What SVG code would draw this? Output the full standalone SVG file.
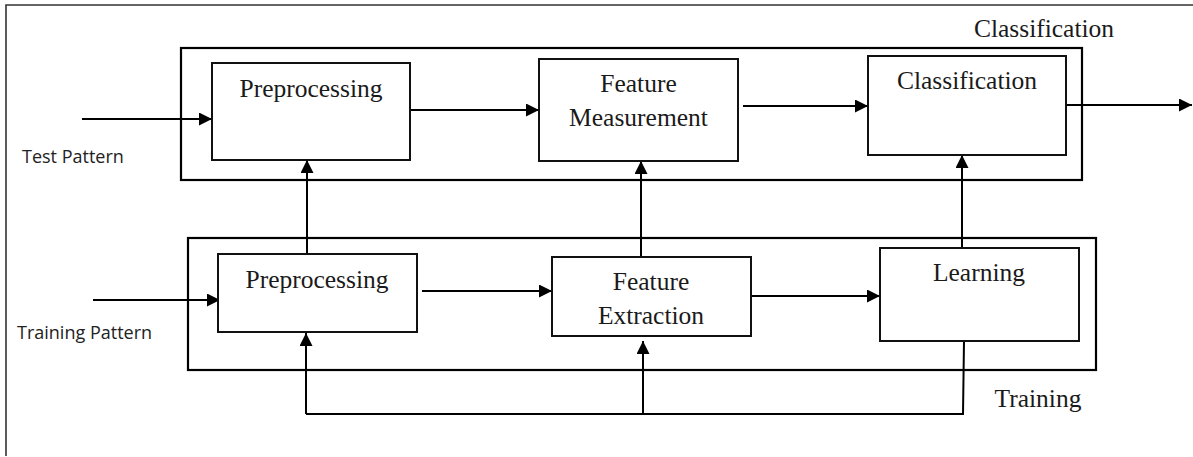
<svg xmlns="http://www.w3.org/2000/svg" width="1193" height="457" viewBox="0 0 1193 457">
  <defs>
    <marker id="arrow" viewBox="0 0 13 13" refX="13" refY="6.5" markerWidth="13" markerHeight="13" markerUnits="userSpaceOnUse" orient="auto">
      <path d="M0,0 L13,6.5 L0,13 Z" fill="#000"/>
    </marker>
    <style>
      .frame { fill: none; stroke: #333; stroke-width: 1.6; }
      .group { fill: none; stroke: #000; stroke-width: 2.2; }
      .box { fill: #fff; stroke: #111; stroke-width: 2; }
      .conn { fill: none; stroke: #000; stroke-width: 2; }
      .arr { marker-end: url(#arrow); }
      .lbl { font-family: "Liberation Serif", "Times New Roman", serif; font-size: 25.5px; fill: #1a1a1a; text-anchor: middle; }
      .side { font-family: "Open Sans", "Liberation Sans", sans-serif; font-size: 18px; fill: #222; }
    </style>
  </defs>

  <rect width="1193" height="457" fill="#fff"/>
  <!-- outer border -->
  <path class="frame" d="M6,456 L6,5 L1195,5"/>

  <!-- stage groupings -->
  <g id="classification-stage">
    <rect class="group" x="181" y="48" width="901" height="132"/>
    <text class="lbl" x="1044" y="37">Classification</text>
  </g>
  <g id="training-stage">
    <rect class="group" x="188" y="238" width="908" height="132"/>
    <text class="lbl" x="1038" y="407">Training</text>
  </g>

  <!-- connectors -->
  <g id="connectors">
    <line class="conn arr" x1="82" y1="119" x2="212" y2="119"/>
    <line class="conn arr" x1="410" y1="110" x2="539" y2="110"/>
    <line class="conn arr" x1="743" y1="106" x2="868" y2="106"/>
    <line class="conn arr" x1="1066" y1="105" x2="1192" y2="105"/>

    <line class="conn arr" x1="93" y1="300" x2="220" y2="300"/>
    <line class="conn arr" x1="422" y1="291" x2="552" y2="291"/>
    <line class="conn arr" x1="751" y1="296" x2="880" y2="296"/>

    <line class="conn arr" x1="307" y1="254" x2="307" y2="160"/>
    <line class="conn arr" x1="641" y1="257" x2="641" y2="161"/>
    <line class="conn arr" x1="962" y1="248" x2="962" y2="155"/>

    <!-- feedback from learning -->
    <polyline class="conn" points="964,341 963,414 306,414"/>
    <line class="conn arr" x1="306" y1="414" x2="306" y2="333"/>
    <line class="conn arr" x1="643" y1="414" x2="643" y2="341"/>
  </g>

  <g id="test-pattern">
    <text class="side" x="22" y="163">Test Pattern</text>
  </g>
  <g id="training-pattern">
    <text class="side" x="17" y="339">Training Pattern</text>
  </g>

  <g id="preprocessing-test">
    <rect class="box" x="212" y="63" width="198" height="97"/>
    <text class="lbl" x="311" y="97">Preprocessing</text>
  </g>
  <g id="feature-measurement">
    <rect class="box" x="539" y="59" width="199" height="102"/>
    <text class="lbl" x="638.5" y="92">Feature</text>
    <text class="lbl" x="638.5" y="126">Measurement</text>
  </g>
  <g id="classification">
    <rect class="box" x="868" y="56" width="198" height="99"/>
    <text class="lbl" x="967" y="89">Classification</text>
  </g>

  <g id="preprocessing-train">
    <rect class="box" x="218" y="254" width="199" height="78"/>
    <text class="lbl" x="317" y="288">Preprocessing</text>
  </g>
  <g id="feature-extraction">
    <rect class="box" x="552" y="257" width="199" height="79"/>
    <text class="lbl" x="651" y="290">Feature</text>
    <text class="lbl" x="651" y="324">Extraction</text>
  </g>
  <g id="learning">
    <rect class="box" x="880" y="248" width="199" height="93"/>
    <text class="lbl" x="979" y="281">Learning</text>
  </g>
</svg>
